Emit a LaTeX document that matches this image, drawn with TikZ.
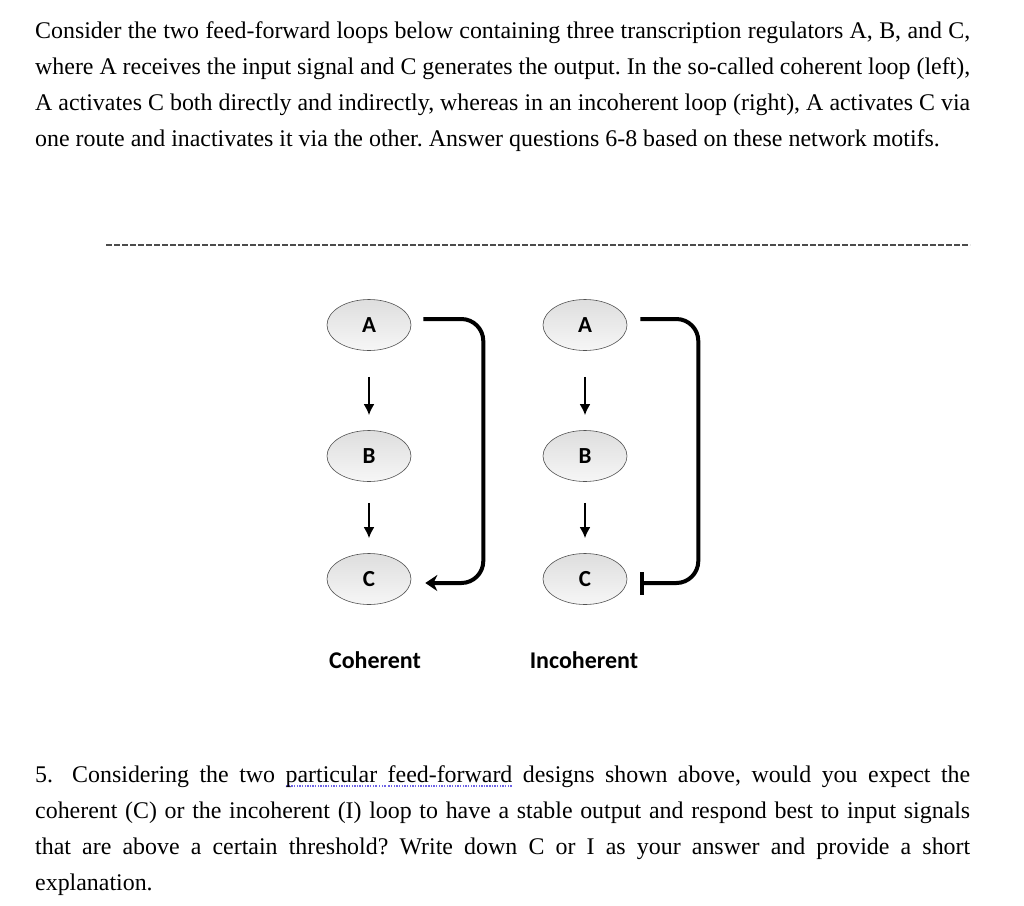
\documentclass[tikz,border=0pt]{standalone}
\usepackage{fontspec}
\setmainfont{Liberation Serif}
\newfontfamily\calfont{Carlito}
\usetikzlibrary{arrows.meta,shapes.geometric}
\definecolor{ulblue}{RGB}{110,100,230}
\newcommand\uldot{\hbox{\kern0.6pt\textcolor{ulblue}{\rule[-4.5pt]{1.4pt}{1.4pt}}\kern0.6pt}}
\newcommand\dotsul[1]{\setbox0=\hbox{#1}\rlap{\hbox to\wd0{\xleaders\uldot\hfill}}\box0\relax}
\newcommand\dotsp{\leaders\uldot\hskip\fontdimen2\font plus\fontdimen3\font minus\fontdimen4\font\relax}
\tolerance=10000
\hyphenpenalty=10000
\frenchspacing

\begin{document}
\begin{tikzpicture}[x=1pt, y=-1pt,
  reg/.style={shape=ellipse, draw=gray!65!black, line width=0.6pt, top color=gray!26, bottom color=gray!7,
    minimum width=84pt, minimum height=51pt, inner sep=0pt, font=\calfont\bfseries\fontsize{23}{23}\selectfont},
  act/.style={-{Latex[length=11pt,width=11pt]}, line width=2.6pt},
  ffl/.style={line width=4pt, rounded corners=22pt},
  lbl/.style={font=\calfont\bfseries\fontsize{24}{24}\selectfont},
  txt/.style={anchor=base west, text width=935pt, align=justify, inner sep=0pt,
    font=\fontsize{23.9}{36}\selectfont}]
\useasboundingbox (0,0) rectangle (1024,905);

\node[txt] (intro) at (35,38) {Consider the two feed-forward loops below containing three transcription regulators A, B, and C,\linebreak
where A receives the input signal and C generates the output. In the so-called coherent loop (left),\linebreak
A activates C both directly and indirectly, whereas in an incoherent loop (right), A activates C via\linebreak
one route and inactivates it via the other. Answer questions 6-8 based on these network motifs.};

\draw[dash pattern=on 6pt off 2pt, line width=1.3pt, gray!60!black] (106,245) -- (970,245);

% coherent loop
\node[reg] (A1) at (369,325) {A};
\node[reg] (B1) at (369,456) {B};
\node[reg] (C1) at (369,579) {C};
\draw[act, shorten <=26pt, shorten >=15pt] (A1) -- (B1);
\draw[act, shorten <=21pt, shorten >=15pt] (B1) -- (C1);
\draw[ffl, -{Stealth[length=12pt,width=16pt]}]
  ([shift={(12,-6)}]A1.east) -- ++(60,0) |- ([shift={(14,4)}]C1.east);

% incoherent loop
\node[reg] (A2) at (585,325) {A};
\node[reg] (B2) at (585,456) {B};
\node[reg] (C2) at (585,579) {C};
\draw[act, shorten <=26pt, shorten >=15pt] (A2) -- (B2);
\draw[act, shorten <=21pt, shorten >=15pt] (B2) -- (C2);
\draw[ffl, -{Bar[width=23pt]}]
  ([shift={(13,-6)}]A2.east) -- ++(58,0) |- ([shift={(13,4)}]C2.east);

\node[lbl] (coh) at (375,660) {Coherent};
\node[lbl] (incoh) at (584,660) {Incoherent};

\node[txt] (q5) at (35,782) {5.\hspace{0.8em}Considering the two \dotsul{particular}\dotsp\dotsul{feed-forward} designs shown above, would you expect the\linebreak
coherent (C) or the incoherent (I) loop to have a stable output and respond best to input signals\linebreak
that are above a certain threshold? Write down C or I as your answer and provide a short\linebreak
explanation.};
\end{tikzpicture}
\end{document}
